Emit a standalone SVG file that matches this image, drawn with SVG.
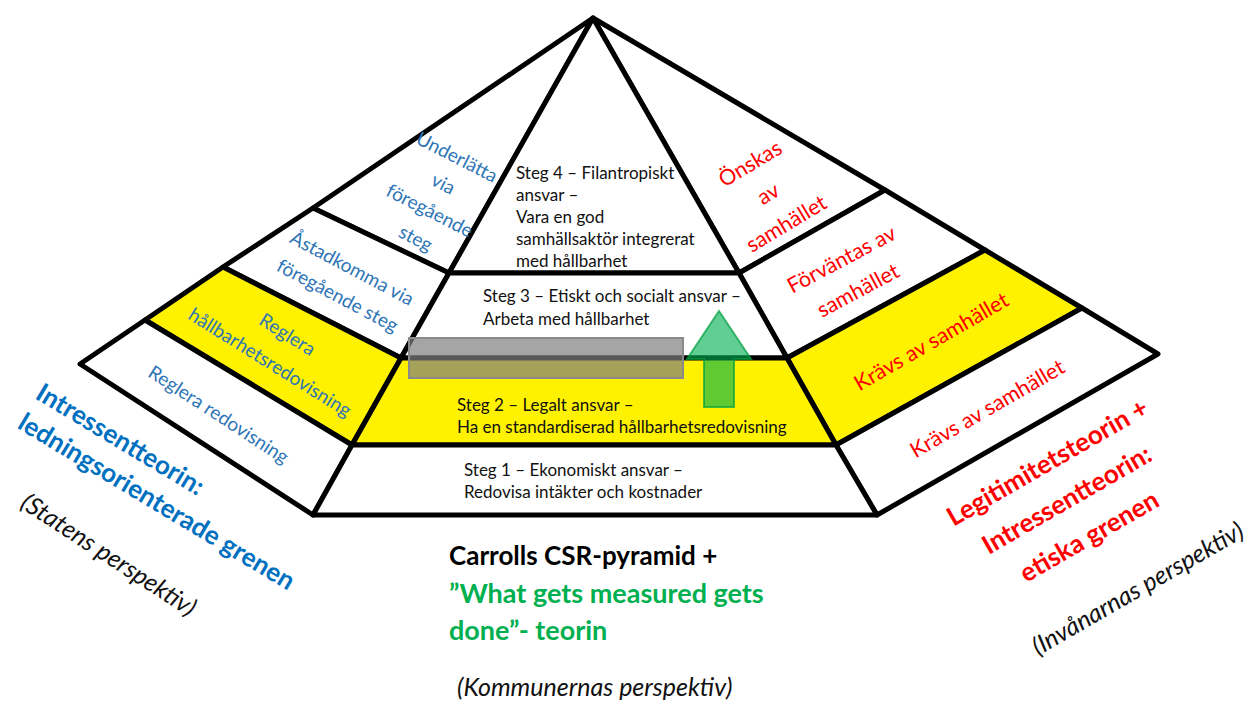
<svg xmlns="http://www.w3.org/2000/svg" width="1252" height="702" viewBox="0 0 1252 702">
<style>
.face{stroke:#000;stroke-width:5;stroke-linejoin:round}
.w{fill:#fff}
.y{fill:#fff200}
text{font-family:Lato,"Liberation Sans",sans-serif}
.front{font-size:17px;fill:#111}
.side{font-size:19px}
.blue{fill:#2e75b6}
.red{fill:#ff0000;font-size:21.5px}
.title{font-size:26px;font-weight:bold}
.green{font-size:27px;fill:#00b050}
.ital{font-size:25px;font-style:italic;fill:#111}
</style>
<rect width="1252" height="702" fill="#fff"/>
<g id="left-face">
  <g id="left-top"><polygon class="face w" points="593,18 313,208 449,273"/></g>
  <g id="left-band2"><polygon class="face w" points="313,208 223,267 401,358 449,273"/></g>
  <g id="left-band3"><polygon class="face y" points="223,267 145,320 352,445 401,358"/></g>
  <g id="left-band4"><polygon class="face w" points="145,320 80,364 313,515 352,445"/></g>
</g>
<g id="right-face">
  <g id="right-top"><polygon class="face w" points="593,18 885,190 739,273"/></g>
  <g id="right-band2"><polygon class="face w" points="885,190 985,250 787,358 739,273"/></g>
  <g id="right-band3"><polygon class="face y" points="985,250 1082,308 836,445 787,358"/></g>
  <g id="right-band4"><polygon class="face w" points="1082,308 1158,354 877,515 836,445"/></g>
</g>
<g id="front-face">
  <g id="steg4"><polygon class="face w" points="593,18 739,273 449,273"/>
    <text class="front"><tspan x="516" y="179">Steg 4 – Filantropiskt</tspan><tspan x="516" y="201">ansvar –</tspan><tspan x="516" y="223">Vara en god</tspan><tspan x="516" y="245">samhällsaktör integrerat</tspan><tspan x="516" y="267">med hållbarhet</tspan></text></g>
  <g id="steg3"><polygon class="face w" points="449,273 739,273 787,358 401,358"/>
    <text class="front"><tspan x="483" y="302">Steg 3 – Etiskt och socialt ansvar –</tspan><tspan x="483" y="325">Arbeta med hållbarhet</tspan></text></g>
  <g id="steg2"><polygon class="face y" points="401,358 787,358 836,445 352,445"/>
    <text class="front"><tspan x="457" y="411">Steg 2 – Legalt ansvar –</tspan><tspan x="457" y="433">Ha en standardiserad hållbarhetsredovisning</tspan></text></g>
  <g id="steg1"><polygon class="face w" points="352,445 836,445 877,515 313,515"/>
    <text class="front"><tspan x="464" y="476">Steg 1 – Ekonomiskt ansvar –</tspan><tspan x="464" y="498">Redovisa intäkter och kostnader</tspan></text></g>
</g>
<g id="overlays">
  <rect id="gray-bar" x="409" y="338" width="274" height="40" fill="#7f7f7f" fill-opacity="0.7" stroke="#8a8a8a" stroke-width="2"/>
  <polygon id="green-arrow" points="719,311 751,359 734,359 734,407 704,407 704,359 687,359" fill="#00b050" fill-opacity="0.62" stroke="#00a040" stroke-opacity="0.7" stroke-width="2"/>
</g>
<g id="left-labels" class="side blue" text-anchor="middle">
  <text transform="translate(454,163) rotate(27)"><tspan x="0" y="0">Underlätta</tspan><tspan x="0" y="30">via</tspan><tspan x="0" y="60">föregående</tspan><tspan x="0" y="91">steg</tspan></text>
  <text transform="translate(349,274) rotate(28)"><tspan x="0" y="0">Åstadkomma via</tspan><tspan x="0" y="31">föregående steg</tspan></text>
  <text transform="translate(284,340) rotate(32)"><tspan x="0" y="0">Reglera</tspan><tspan x="0" y="33">hållbarhetsredovisning</tspan></text>
  <text transform="translate(215,420) rotate(33)">Reglera redovisning</text>
</g>
<g id="right-labels" class="side red" text-anchor="middle">
  <text transform="translate(754,170) rotate(-31)"><tspan x="0" y="0">Önskas</tspan><tspan x="0" y="35">av</tspan><tspan x="0" y="70">samhället</tspan></text>
  <text transform="translate(845,266) rotate(-28)"><tspan x="0" y="0">Förväntas av</tspan><tspan x="0" y="35">samhället</tspan></text>
  <text transform="translate(935,348) rotate(-30)">Krävs av samhället</text>
  <text transform="translate(991,415) rotate(-30)">Krävs av samhället</text>
</g>
<g id="left-title">
  <text class="title" fill="#0070c0" transform="translate(34,398) rotate(31)"><tspan x="0" y="0">Intressentteorin:</tspan><tspan x="0" y="34.5">ledningsorienterade grenen</tspan></text>
  <text class="ital" text-anchor="middle" transform="translate(104,562) rotate(33)">(Statens perspektiv)</text>
</g>
<g id="right-title">
  <text class="title" fill="#ff0000" text-anchor="middle" transform="translate(1052,470) rotate(-30)"><tspan x="0" y="0">Legitimitetsteorin +</tspan><tspan x="-2" y="42">Intressentteorin:</tspan><tspan x="-1" y="85">etiska grenen</tspan></text>
  <text class="ital" text-anchor="middle" transform="translate(1142,596) rotate(-30)">(Invånarnas perspektiv)</text>
</g>
<g id="bottom-title">
  <text class="title" x="449" y="565" fill="#000">Carrolls CSR-pyramid +</text>
  <text class="title green"><tspan x="449" y="603">”What gets measured gets</tspan><tspan x="449" y="640">done”- teorin</tspan></text>
  <text class="ital" x="457" y="696">(Kommunernas perspektiv)</text>
</g>
</svg>
